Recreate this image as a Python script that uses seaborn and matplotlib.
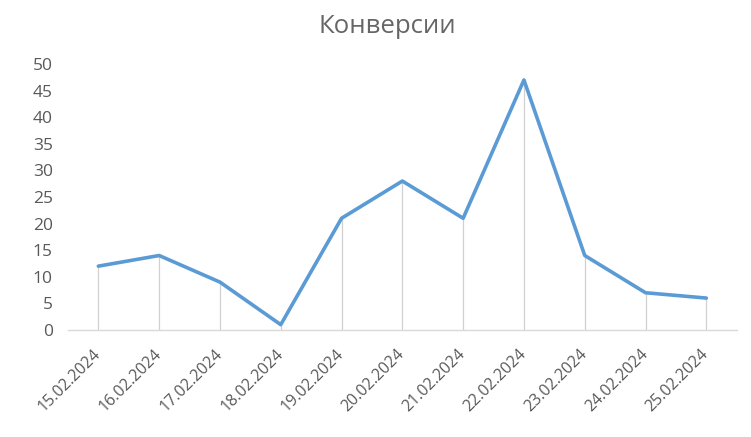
import numpy as np
import pandas as pd
import matplotlib
matplotlib.use("Agg")
import matplotlib.pyplot as plt
import seaborn as sns

dates = ["15.02.2024", "16.02.2024", "17.02.2024", "18.02.2024", "19.02.2024",
         "20.02.2024", "21.02.2024", "22.02.2024", "23.02.2024", "24.02.2024",
         "25.02.2024"]
conversions = [12, 14, 9, 1, 21, 28, 21, 47, 14, 7, 6]
y_ticks = [0, 5, 10, 15, 20, 25, 30, 35, 40, 45, 50]
title = "Конверсии"

sns.set_theme(style="white")
plt.rcParams['font.family'] = ['Open Sans', 'DejaVu Sans']

df = pd.DataFrame({"date": dates, "value": conversions})

fig = plt.figure(figsize=(7.51, 4.37), dpi=100)

# background gradient for whole chart area
bg = fig.add_axes([0, 0, 1, 1], zorder=-10)
grad = np.linspace(0, 1, 256)
shade = np.where(grad < 0.3, 1.0, 1.0 - (grad - 0.3) / 0.7 * 0.07)
img = np.dstack([shade, shade, shade])[:, :1, :].repeat(2, axis=1)
bg.imshow(img, aspect='auto', extent=[0, 1, 1, 0])
bg.set_axis_off()

ax = fig.add_axes([0.0905, 0.2449, 0.8905, 0.6086])
ax.patch.set_alpha(0)

sns.lineplot(data=df, x="date", y="value", ax=ax, color="#5B9BD5",
             linewidth=2.6, sort=False, zorder=3)
xs = np.arange(len(dates))
ax.vlines(xs, 0, df["value"], colors="#d0d0d0", linewidth=0.9, zorder=2)

ax.set_xlim(-0.5, len(dates) - 0.5)
ax.set_ylim(0, 50)
ax.set_yticks(y_ticks)
ax.set_xticks(xs)
ax.set_xticklabels(dates, rotation=45, ha='right', va='center',
                   rotation_mode='anchor')
ax.tick_params(axis='both', length=0, labelcolor="#595959")
ax.tick_params(axis='y', pad=11, labelsize=12.5)
ax.tick_params(axis='x', pad=16, labelsize=11.5)
ax.set_xlabel("")
ax.set_ylabel("")
for s in ["top", "right", "left"]:
    ax.spines[s].set_visible(False)
ax.spines["bottom"].set_color("#d9d9d9")
ax.spines["bottom"].set_linewidth(1)
ax.grid(False)

fig.text(0.516, 1 - 33 / 437, title, ha='center', va='baseline', fontsize=18.5,
         color="#666666")

fig.savefig("out.png", dpi=100)
